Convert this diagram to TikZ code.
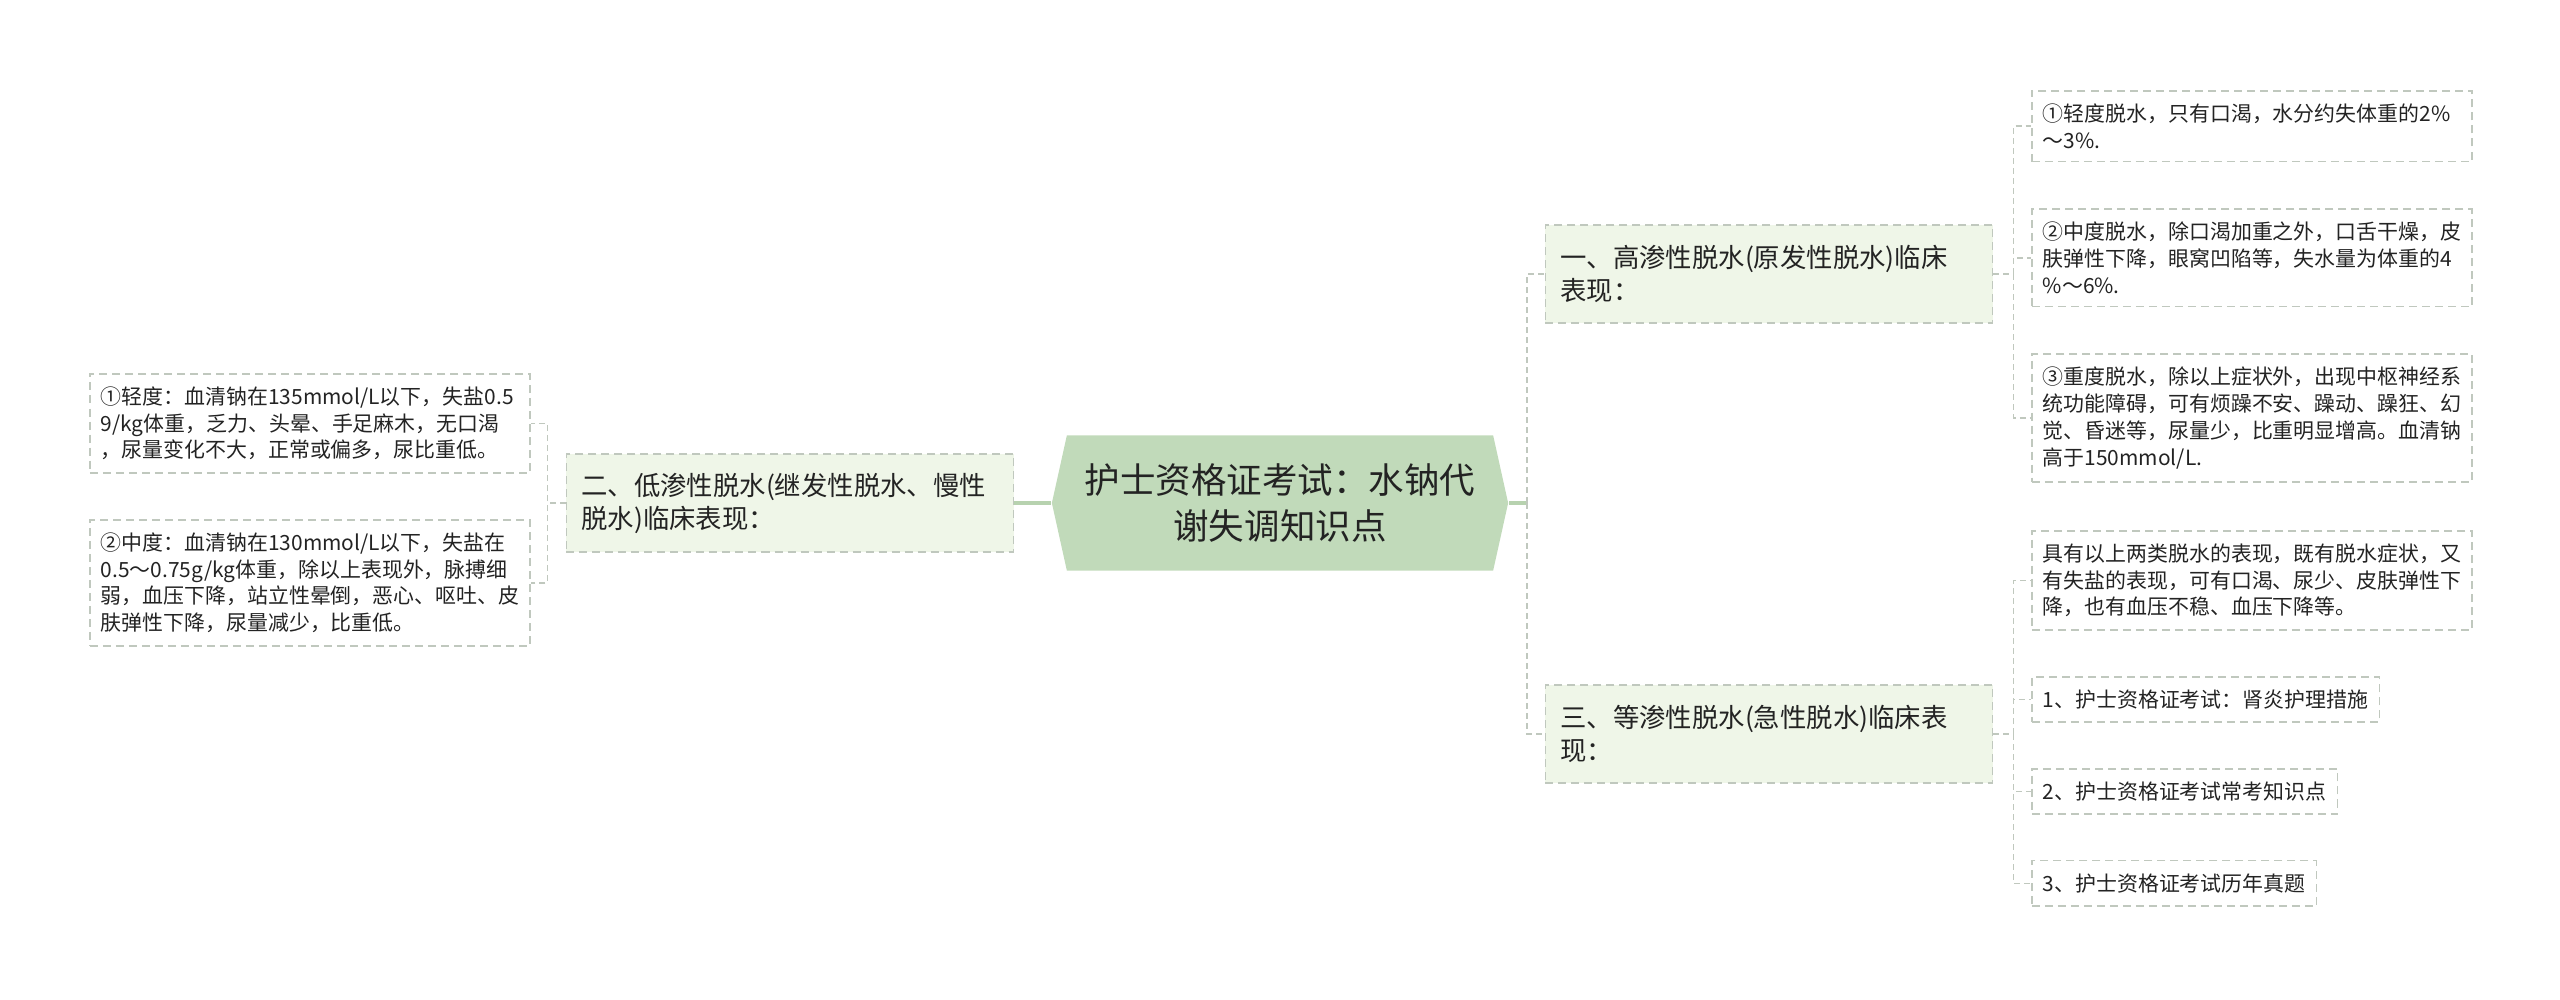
\documentclass[tikz,border=0pt]{standalone}
\usepackage{fontspec}
\setmainfont{Noto Sans CJK SC}
\usetikzlibrary{shapes.symbols, positioning}
\definecolor{hexgreen}{RGB}{193, 218, 186}
\definecolor{boxgreen}{RGB}{239, 246, 232}
\definecolor{dashgray}{RGB}{192, 200, 190}
\definecolor{linkgreen}{RGB}{183, 210, 175}
\definecolor{inkgray}{RGB}{35, 35, 35}
\tikzset{
  rootnode/.style={signal, signal to=west and east, signal pointer angle=155, fill=hexgreen, minimum width=4.56cm, minimum height=1.35cm, inner sep=0pt, align=center, text=inkgray, font=\fontsize{10.1pt}{13pt}\selectfont},
  topicnode/.style={draw=dashgray, dash pattern=on 0.08cm off 0.05cm, line width=0.45pt, fill=boxgreen, text width=4.17cm, minimum height=0.98cm, inner xsep=0.15cm, align=left, text=inkgray, font=\fontsize{7.5pt}{9.4pt}\selectfont},
  leafnode/.style={draw=dashgray, dash pattern=on 0.08cm off 0.05cm, line width=0.45pt, inner xsep=0.11cm, inner ysep=0.13cm, align=left, text=inkgray, font=\fontsize{5.95pt}{7.6pt}\selectfont},
  wideleaf/.style={leafnode, text width=4.18cm},
  mainlink/.style={linkgreen, line width=0.9pt},
  sublink/.style={dashgray, line width=0.45pt, dash pattern=on 0.06cm off 0.04cm},
}
\begin{document}
\begin{tikzpicture}[x=0.01cm, y=-0.01cm]
  \useasboundingbox (0,0) rectangle (2560,999);
  % root and topics
  \node[rootnode] (hex) at (1280,503) {护士资格证考试：水钠代\\谢失调知识点};
  \node[topicnode] (er) at (790,503) {二、低渗性脱水(继发性脱水、慢性\\脱水)临床表现：};
  \node[topicnode] (yi) at (1769,274) {一、高渗性脱水(原发性脱水)临床\\表现：};
  \node[topicnode] (san) at (1769,734) {三、等渗性脱水(急性脱水)临床表\\现：};
  % left leaves
  \node[wideleaf, anchor=north west] (l1) at (89,373) {①轻度：血清钠在135mmol/L以下，失盐0.5\\9/kg体重，乏力、头晕、手足麻木，无口渴\\，尿量变化不大，正常或偏多，尿比重低。};
  \node[wideleaf, below=0.45cm of l1.south west, anchor=north west] (l2) {②中度：血清钠在130mmol/L以下，失盐在\\0.5～0.75g/kg体重，除以上表现外，脉搏细\\弱，血压下降，站立性晕倒，恶心、呕吐、皮\\肤弹性下降，尿量减少，比重低。};
  % right leaves
  \node[wideleaf, anchor=north west] (a1) at (2031,90) {①轻度脱水，只有口渴，水分约失体重的2\%\\～3\%.};
  \node[wideleaf, below=0.46cm of a1.south west, anchor=north west] (a2) {②中度脱水，除口渴加重之外，口舌干燥，皮\\肤弹性下降，眼窝凹陷等，失水量为体重的4\\\%～6\%.};
  \node[wideleaf, below=0.46cm of a2.south west, anchor=north west] (a3) {③重度脱水，除以上症状外，出现中枢神经系\\统功能障碍，可有烦躁不安、躁动、躁狂、幻\\觉、昏迷等，尿量少，比重明显增高。血清钠\\高于150mmol/L.};
  \node[wideleaf, anchor=north west] (b1) at (2031,530) {具有以上两类脱水的表现，既有脱水症状，又\\有失盐的表现，可有口渴、尿少、皮肤弹性下\\降，也有血压不稳、血压下降等。};
  \node[leafnode, below=0.45cm of b1.south west, anchor=north west] (c1) {1、护士资格证考试：肾炎护理措施};
  \node[leafnode, below=0.45cm of c1.south west, anchor=north west] (c2) {2、护士资格证考试常考知识点};
  \node[leafnode, below=0.45cm of c2.south west, anchor=north west] (c3) {3、护士资格证考试历年真题};
  % links
  \coordinate (hubR) at (1527,503);
  \draw[mainlink] (hex.west) -- (er.east);
  \draw[mainlink] (hex.east) -- (hubR);
  \draw[sublink] (hubR) |- (yi.west);
  \draw[sublink] (hubR) |- (san.west);
  \foreach \leaf in {l1,l2}
    \draw[sublink] (er.west) -- ++(-18,0) |- (\leaf.east);
  \foreach \leaf in {a1,a2,a3}
    \draw[sublink] (yi.east) -- ++(20,0) |- (\leaf.west);
  \foreach \leaf in {b1,c1,c2,c3}
    \draw[sublink] (san.east) -- ++(20,0) |- (\leaf.west);
\end{tikzpicture}
\end{document}
